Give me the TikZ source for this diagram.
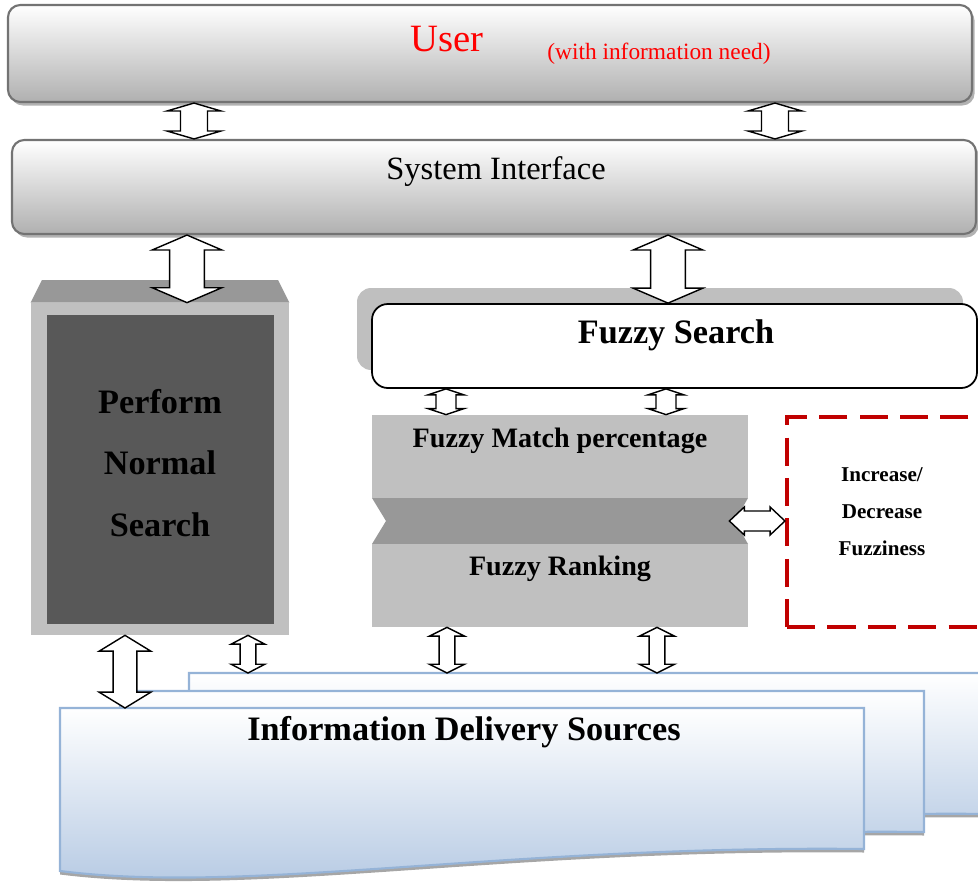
\documentclass[tikz,border=0pt]{standalone}
\usepackage{fontspec}
\setmainfont{Liberation Serif}
\usetikzlibrary{positioning, fit, shadows, calc}

\definecolor{boxline}{HTML}{737373}
\definecolor{darkfill}{HTML}{585858}
\definecolor{midfill}{HTML}{989898}
\definecolor{lightfill}{HTML}{C0C0C0}
\definecolor{dashred}{HTML}{C00000}
\definecolor{docline}{HTML}{95B3D7}
\definecolor{docfill}{HTML}{B2C7E2}

% vertical block arrow: top, bottom, half shaft, half head, head length
\newcommand{\vbiarrow}[5]{%
	\draw[biarrow] let \p1=(#1), \p2=(#2) in
	(\x1,\y1) -- (\x1+#4,\y1-#5) -- (\x1+#3,\y1-#5) -- (\x1+#3,\y2+#5)
	-- (\x1+#4,\y2+#5) -- (\x1,\y2) -- (\x1-#4,\y2+#5) -- (\x1-#3,\y2+#5)
	-- (\x1-#3,\y1-#5) -- (\x1-#4,\y1-#5) -- cycle;}
% horizontal block arrow: left, right, half shaft, half head, head length
\newcommand{\hbiarrow}[5]{%
	\draw[biarrow] let \p1=(#1), \p2=(#2) in
	(\x1,\y1) -- (\x1+#5,\y1+#4) -- (\x1+#5,\y1+#3) -- (\x2-#5,\y1+#3)
	-- (\x2-#5,\y1+#4) -- (\x2,\y1) -- (\x2-#5,\y1-#4) -- (\x2-#5,\y1-#3)
	-- (\x1+#5,\y1-#3) -- (\x1+#5,\y1-#4) -- cycle;}

\begin{document}
\begin{tikzpicture}[x=0.02cm, y=-0.02cm,
	panel/.style={draw=boxline, line width=1.2pt, rounded corners=7pt,
		top color=white, bottom color=gray!62, inner sep=0pt,
		drop shadow={shadow xshift=1.5pt, shadow yshift=-2pt, fill=gray!60, opacity=1}},
	block/.style={inner sep=0pt, fill=#1},
	docsheet/.style={draw=docline, line width=1.2pt, top color=white, bottom color=docfill,
		drop shadow={shadow xshift=0pt, shadow yshift=-2pt, fill=gray!70, opacity=1}},
	biarrow/.style={draw=black, fill=white, line width=0.8pt, line join=miter},
	big/.style={font=\fontsize{19.5}{35}\selectfont\bfseries},
	mid/.style={font=\fontsize{16}{19}\selectfont\bfseries},
	small/.style={font=\fontsize{12}{21}\selectfont\bfseries},
	]
	\useasboundingbox (0,0) rectangle (978,882);
	\clip (0,0) rectangle (978,882);
	
	%% ── User and system interface ─────────────────────────────────────────
	\node[panel, fit={(8,5) (972,102)}] (user) {};
	\node[red, font=\fontsize{22}{26}\selectfont, anchor=base] (usertext) at (447,52) {User};
	\node[red, font=\fontsize{13.3}{16}\selectfont, anchor=base] (needtext) at (659,60) {(with information need)};
	
	\node[panel, fit={(12,140) (976,234)}] (sys) {};
	\node[font=\fontsize{18.5}{22}\selectfont, anchor=base] (systext) at (496,180) {System Interface};
	
	%% ── Normal search ─────────────────────────────────────────────────────
	\node[block=lightfill, fit={(31,303) (289,635)}] (pns) {};
	\fill[midfill] (pns.north west) -- (42,280) -- (278,280) -- (pns.north east) -- cycle;
	\node[block=darkfill, fit={(47,315) (274,624)}] (pnsin) {};
	\node[big, align=center] (pnstext) at (160,463) {Perform\\Normal\\Search};
	
	%% ── Fuzzy search ──────────────────────────────────────────────────────
	\node[block=gray!50, rounded corners=8pt, fit={(357,288) (963,370)}] (fsshade) {};
	\node[draw, line width=1pt, fill=white, rounded corners=9pt, inner sep=0pt,
	fit={(372,304) (977,388)}] (fs) {};
	\node[big, anchor=base] (fstext) at (676,343) {Fuzzy Search};
	
	\fill[lightfill] (372,415) rectangle (748,498);
	\fill[midfill] (372,498) -- (748,498) -- (735,521) -- (748,544) -- (372,544) -- (386,521) -- cycle;
	\fill[lightfill] (372,544) rectangle (748,627);
	\node[inner sep=0pt, fit={(372,415) (748,627)}] (fm) {};
	\node[mid, anchor=base] (fmtext) at (560,447) {Fuzzy Match percentage};
	\node[mid, anchor=base] (frtext) at (560,575) {Fuzzy Ranking};
	
	\node[draw=dashred, line width=2.3pt, dash pattern=on 16pt off 7pt, inner sep=0pt,
	fit={(787,417) (995,627)}] (fz) {};
	\node[small, align=center] (fztext) at (882,512) {Increase/\\Decrease\\Fuzziness};
	
	%% ── Information delivery sources ──────────────────────────────────────
	\begin{scope}[shift={(189,673)}]
		\draw[docsheet] (0,0) coordinate (back) -- (804,0) -- (804,141)
		.. controls (440,137) and (190,187) .. (0,163) -- cycle;
	\end{scope}
	\begin{scope}[shift={(120,691)}]
		\draw[docsheet] (0,0) coordinate (middle) -- (804,0) -- (804,141)
		.. controls (440,137) and (190,187) .. (0,163) -- cycle;
	\end{scope}
	\begin{scope}[shift={(60,708)}]
		\draw[docsheet] (0,0) coordinate (front) -- (804,0) -- (804,141)
		.. controls (440,137) and (190,187) .. (0,163) -- cycle;
	\end{scope}
	\node[big, anchor=base] (idstext) at (464,740) {Information Delivery Sources};
	
	%% ── Arrows ────────────────────────────────────────────────────────────
	\vbiarrow{user.south -| 194,0}{sys.north -| 194,0}{7.7pt}{15.3pt}{4.5pt}
	\vbiarrow{user.south -| 775,0}{sys.north -| 775,0}{7.7pt}{15.3pt}{4.5pt}
	\vbiarrow{sys.south -| 187,0}{pns.north -| 187,0}{9.9pt}{19.8pt}{8.5pt}
	\vbiarrow{sys.south -| 668,0}{fs.north -| 668,0}{9.9pt}{19.8pt}{8.5pt}
	\vbiarrow{fs.south -| 446,0}{fm.north -| 446,0}{5.7pt}{10.2pt}{3.4pt}
	\vbiarrow{fs.south -| 666,0}{fm.north -| 666,0}{5.7pt}{10.2pt}{3.4pt}
	\hbiarrow{[xshift=-10.8pt]fm.east}{fz.west}{5.7pt}{8pt}{8.5pt}
	\vbiarrow{pns.south -| 125,0}{front -| 125,0}{6.8pt}{14.7pt}{9pt}
	\vbiarrow{pns.south -| 248,0}{back -| 248,0}{4.5pt}{9.6pt}{5pt}
	\vbiarrow{fm.south -| 447,0}{back -| 447,0}{4.5pt}{10pt}{5pt}
	\vbiarrow{fm.south -| 657,0}{back -| 657,0}{4.5pt}{10pt}{5pt}
	
\end{tikzpicture}
\end{document}
